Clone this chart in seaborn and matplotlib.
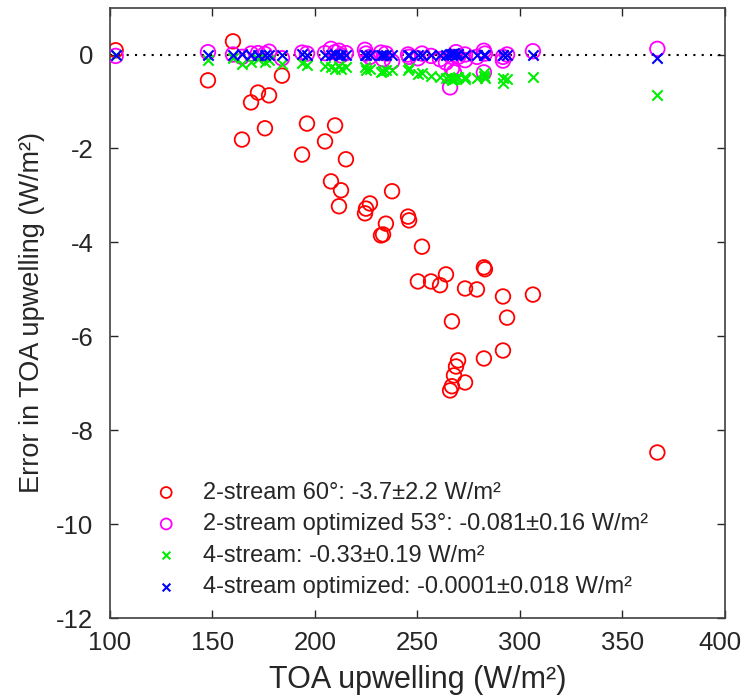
import matplotlib
matplotlib.use("Agg")
import matplotlib.pyplot as plt
import matplotlib.transforms as mtransforms
import seaborn as sns
import numpy as np

# TOA upwelling (W/m^2) for each case
toa = [102.8, 147.8, 160.0, 164.4, 168.8, 172.2, 175.6, 177.6, 183.9, 193.7,
       196.1, 204.9, 207.8, 209.8, 211.7, 212.7, 215.1, 224.4, 224.9, 226.8,
       232.2, 233.2, 234.6, 237.6, 245.4, 245.9, 250.2, 252.2, 256.6, 261.0,
       263.9, 265.9, 266.8, 266.8, 267.8, 268.8, 269.8, 273.2, 273.2, 279.0,
       282.4, 282.4, 282.9, 291.7, 291.7, 293.7, 306.3, 367.0]

err_2s60 = [0.09, -0.55, 0.28, -1.81, -1.02, -0.81, -1.57, -0.87, -0.45, -2.13,
            -1.47, -1.85, -2.70, -1.51, -3.23, -2.89, -2.23, -3.38, -3.28, -3.17,
            -3.85, -3.83, -3.60, -2.91, -3.45, -3.53, -4.83, -4.09, -4.83, -4.91,
            -4.68, -7.15, -5.68, -7.06, -6.83, -6.64, -6.51, -4.98, -6.98, -5.00,
            -4.53, -6.47, -4.57, -5.15, -6.30, -5.60, -5.11, -8.47]

err_2sopt = [-0.03, 0.05, 0.00, -0.05, 0.02, 0.03, 0.01, 0.06, -0.08, 0.04,
             0.02, 0.03, 0.12, 0.05, 0.08, -0.02, 0.03, 0.10, 0.02, -0.05,
             0.04, -0.10, 0.02, -0.15, 0.00, -0.05, -0.08, 0.02, -0.03, -0.10,
             -0.17, -0.70, -0.05, -0.30, -0.38, 0.05, -0.05, -0.12, 0.00, -0.05,
             0.08, -0.38, 0.02, -0.05, -0.13, 0.00, 0.07, 0.12]

err_4s = [-0.02, -0.12, -0.08, -0.20, -0.17, -0.10, -0.17, -0.12, -0.20, -0.18,
          -0.22, -0.25, -0.27, -0.30, -0.24, -0.30, -0.27, -0.27, -0.32, -0.30,
          -0.38, -0.35, -0.33, -0.33, -0.32, -0.28, -0.41, -0.40, -0.45, -0.47,
          -0.49, -0.50, -0.55, -0.52, -0.53, -0.50, -0.48, -0.47, -0.52, -0.49,
          -0.40, -0.45, -0.50, -0.50, -0.60, -0.52, -0.48, -0.87]

err_4sopt = [0.00, 0.00, 0.00, 0.01, 0.00, 0.00, 0.00, 0.00, 0.00, 0.01,
             0.00, 0.00, 0.00, 0.01, 0.00, 0.00, 0.00, 0.00, 0.00, 0.00,
             0.00, 0.00, 0.00, -0.01, 0.00, 0.00, 0.00, 0.00, 0.00, 0.00,
             0.00, 0.01, 0.02, 0.00, 0.03, 0.00, 0.02, 0.00, 0.00, 0.00,
             0.00, 0.00, 0.00, 0.00, 0.00, 0.00, 0.00, -0.08]

labels = ["2-stream 60°: -3.7±2.2 W/m²",
          "2-stream optimized 53°: -0.081±0.16 W/m²",
          "4-stream: -0.33±0.19 W/m²",
          "4-stream optimized: -0.0001±0.018 W/m²"]

x_ticks = [100, 150, 200, 250, 300, 350, 400]
y_ticks = [0, -2, -4, -6, -8, -10, -12]

sns.set_theme(style="ticks")
plt.rcParams["font.family"] = ["Liberation Sans", "DejaVu Sans"]
plt.rcParams["axes.unicode_minus"] = False

fig = plt.figure(figsize=(7.41, 6.96), dpi=100)
ax = fig.add_axes([0.1484, 0.1116, 0.8300, 0.8776])

ax.axhline(0, color="black", linestyle=(0, (1, 3)), linewidth=1.5, zorder=1)

sns.scatterplot(x=toa, y=err_2s60, ax=ax, marker="o", s=110, color="#ff0000",
                facecolor="none", edgecolor="#ff0000", linewidth=1.3,
                label=labels[0], zorder=2)
sns.scatterplot(x=toa, y=err_2sopt, ax=ax, marker="o", s=110, color="#ff00ff",
                facecolor="none", edgecolor="#ff00ff", linewidth=1.3,
                label=labels[1], zorder=3)
sns.scatterplot(x=toa, y=err_4s, ax=ax, marker="x", s=55, color="#00ee00",
                linewidth=1.5, label=labels[2], zorder=4)
sns.scatterplot(x=toa, y=err_4sopt, ax=ax, marker="x", s=55, color="#0000ff",
                linewidth=1.5, label=labels[3], zorder=5)

ax.set_xlim(100, 400)
ax.set_ylim(-12, 1)
ax.set_xticks(x_ticks)
ax.set_xticklabels([str(t) for t in x_ticks])
ax.set_yticks(y_ticks)
ax.set_yticklabels([str(t) for t in y_ticks])

ax.tick_params(axis="both", direction="in", length=6, width=1, color="#262626",
               labelsize=18.5, labelcolor="#262626", top=True, right=True)
ax.tick_params(axis="x", pad=9)
ax.tick_params(axis="y", pad=12)
for sp in ax.spines.values():
    sp.set_visible(True)
    sp.set_color("#404040")
    sp.set_linewidth(1.2)

# keep the last x tick label inside the figure
last = ax.get_xticklabels()[-1]
last.set_transform(last.get_transform() +
                   mtransforms.ScaledTranslation(-5 / 100, 0, fig.dpi_scale_trans))

ax.set_xlabel("TOA upwelling (W/m²)", fontsize=22, color="#262626", labelpad=7)
ax.set_ylabel("Error in TOA upwelling (W/m²)", fontsize=19.5, color="#262626", labelpad=8)

leg = ax.legend(loc="lower left", bbox_to_anchor=(0.03, 0.01), frameon=False,
                fontsize=17, labelspacing=0.40, handletextpad=0.55, markerscale=0.75,
                borderaxespad=0.2)
for t in leg.get_texts():
    t.set_color("#262626")

fig.savefig("out.png", dpi=100)
